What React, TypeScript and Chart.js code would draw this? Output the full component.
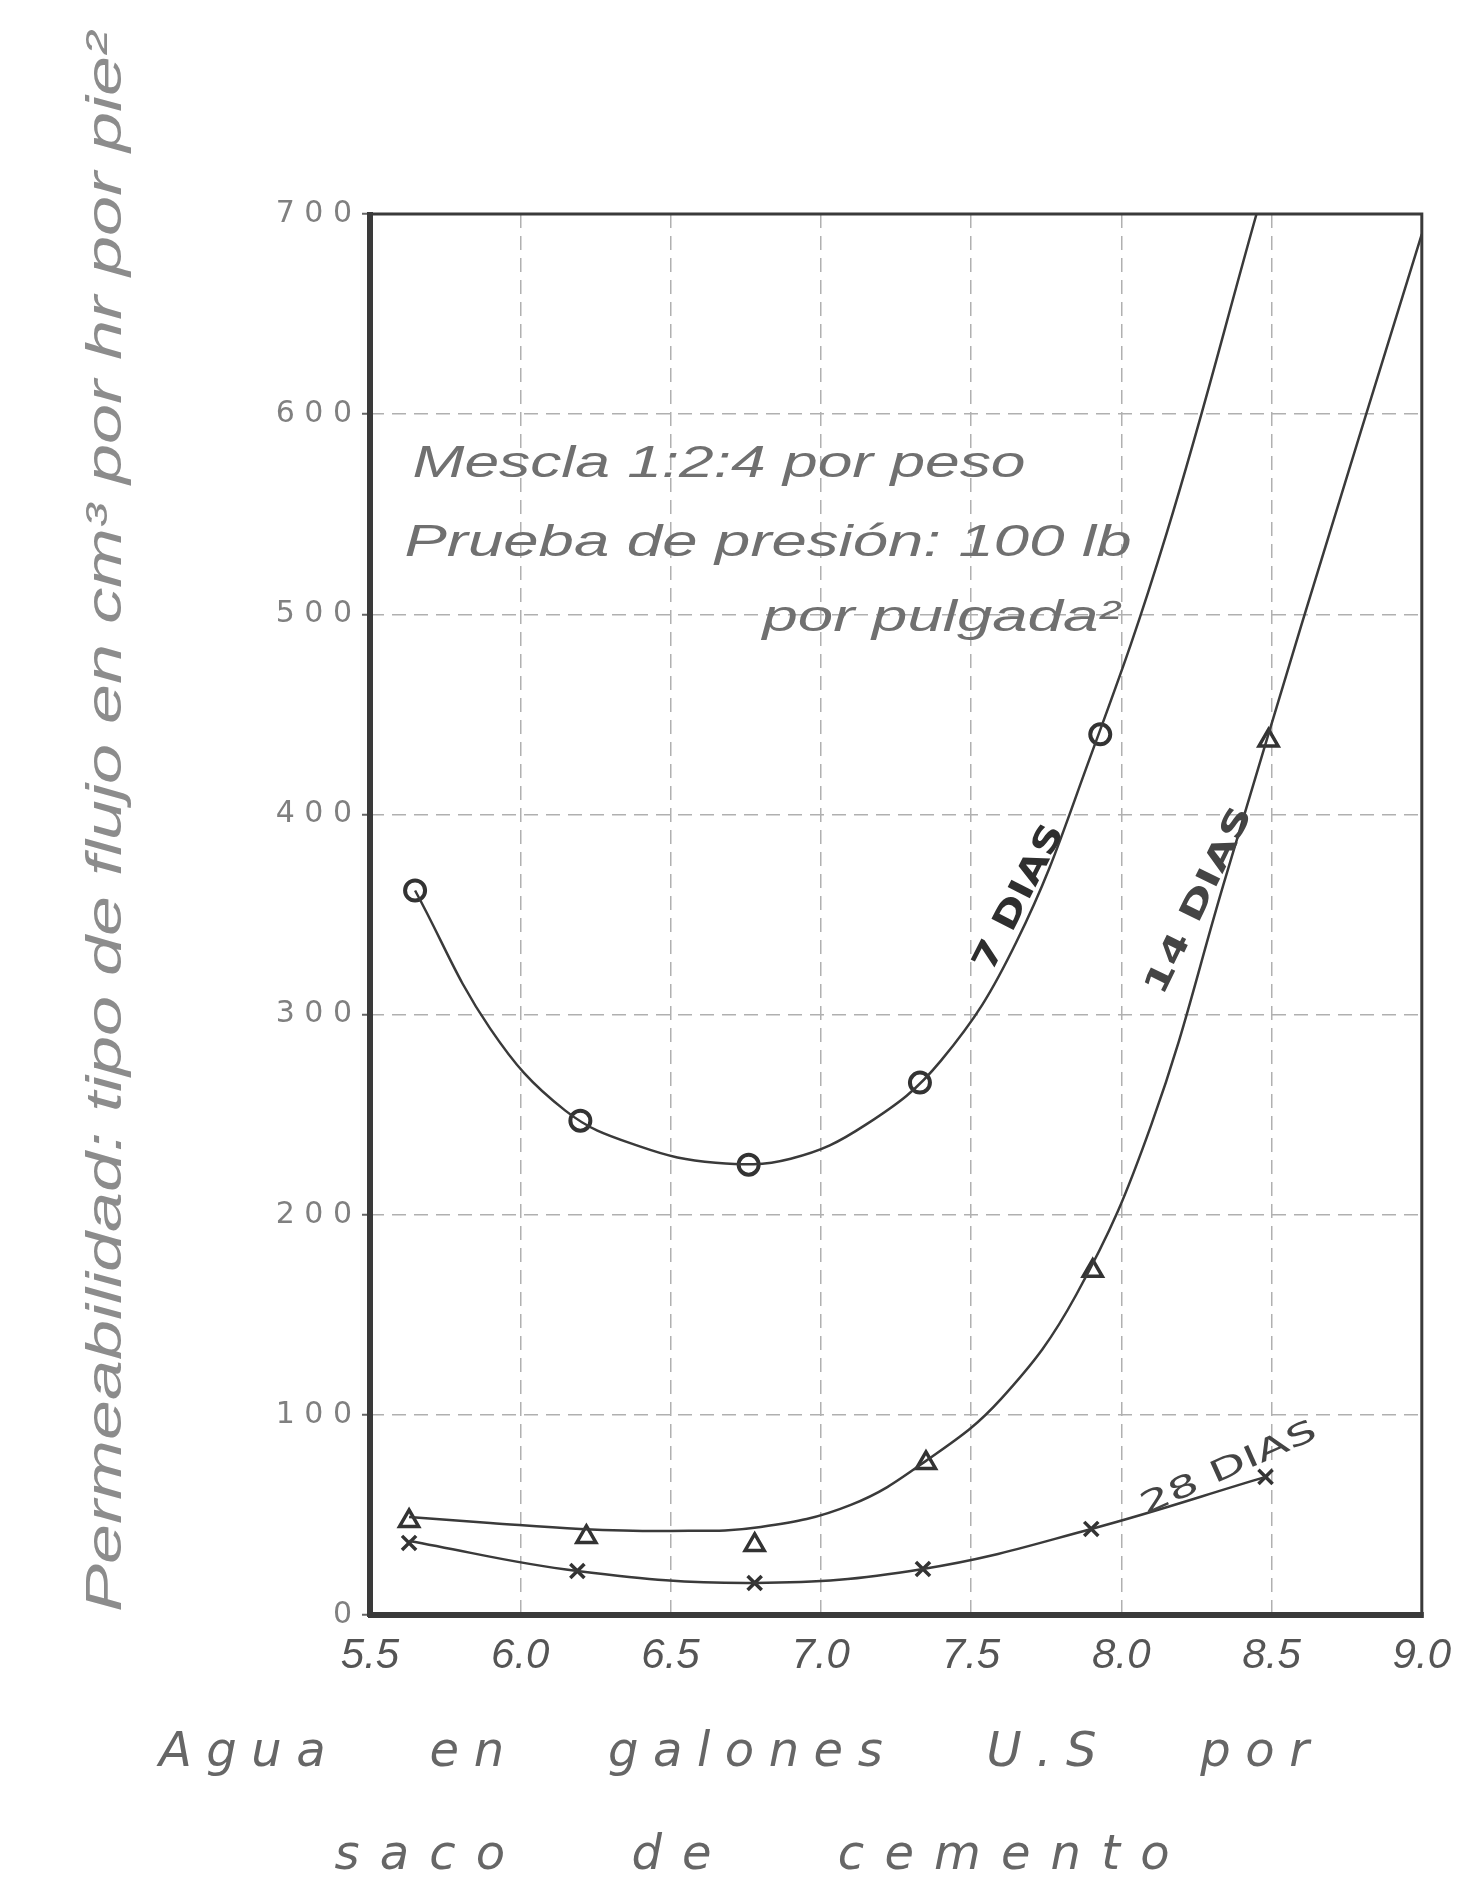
import React, { useEffect, useRef } from 'react';
import { Chart, registerables } from 'chart.js';

Chart.register(...registerables);

// ---- data ----
const xTickLabels = ['5.5', '6.0', '6.5', '7.0', '7.5', '8.0', '8.5', '9.0'];
const yTickLabels = ['0', '100', '200', '300', '400', '500', '600', '700'];

// 7 días (circles)
const water7 = [5.65, 6.2, 6.76, 7.33, 7.93];
const flow7 = [362, 247, 225, 266, 440];
const curve7X = [5.65, 5.9, 6.15, 6.4, 6.65, 6.9, 7.15, 7.4, 7.65, 7.9, 8.15, 8.45];
const curve7Y = [362, 293, 252, 234, 226, 228, 245, 277, 336, 430, 540, 700];

// 14 días (triangles)
const water14 = [5.63, 6.22, 6.78, 7.35, 7.905, 8.49];
const flow14 = [47, 39, 35, 76, 172, 437];
const curve14X = [5.63, 5.9, 6.2, 6.5, 6.8, 7.1, 7.35, 7.6, 7.85, 8.1, 8.35, 8.6, 9.0];
const curve14Y = [49, 46, 43, 42, 44, 55, 77, 108, 160, 245, 370, 495, 690];

// 28 días (crosses)
const water28 = [5.63, 6.19, 6.78, 7.34, 7.9, 8.48];
const flow28 = [36, 22, 16, 23, 43, 69];
const curve28X = [5.63, 6.19, 6.78, 7.34, 7.9, 8.48];
const curve28Y = [37, 22, 16, 23, 43, 69];

const yTitle = 'Permeabilidad: tipo de flujo en cm³ por hr por pie²';
const xTitle1 = 'Agua   en   galones   U.S   por';
const xTitle2 = 'saco   de   cemento';
const note1 = 'Mescla 1:2:4 por peso';
const note2 = 'Prueba de presión: 100 lb';
const note3 = 'por pulgada²';
const label7 = '7 DIAS';
const label14 = '14 DIAS';
const label28 = '28 DIAS';

// ---- layout ----
const W = 1459;
const H = 1880;
const AREA = { left: 362, right: 1425, top: 206, bottom: 1607 };

const pts = (xs: number[], ys: number[]) => xs.map((x, i) => ({ x, y: ys[i] }));

function fitText(ctx: CanvasRenderingContext2D, text: string, cx: number, cy: number, width: number, font: string, color: string, angle = 0) {
  ctx.save();
  ctx.translate(cx, cy);
  ctx.rotate(angle);
  ctx.font = font;
  const w = ctx.measureText(text).width;
  ctx.scale(width / w, 1);
  ctx.textAlign = 'center';
  ctx.textBaseline = 'middle';
  ctx.fillStyle = color;
  ctx.fillText(text, 0, 0);
  ctx.restore();
}

function spacedText(ctx: CanvasRenderingContext2D, text: string, cx: number, cy: number, width: number, font: string, color: string) {
  ctx.save();
  ctx.font = font;
  (ctx as any).letterSpacing = '0px';
  const w0 = ctx.measureText(text).width;
  const ls = (width - w0) / Math.max(1, text.length - 1);
  (ctx as any).letterSpacing = ls + 'px';
  ctx.textAlign = 'left';
  ctx.textBaseline = 'middle';
  ctx.fillStyle = color;
  ctx.fillText(text, cx - width / 2, cy);
  ctx.restore();
}

const framePlugin = {
  id: 'frame',
  beforeDatasetsDraw(chart: any) {
    const { ctx, chartArea: a } = chart;
    ctx.save();
    ctx.strokeStyle = '#3a3a3a';
    ctx.lineWidth = 3;
    ctx.strokeRect(a.left, a.top, a.right - a.left, a.bottom - a.top);
    ctx.lineWidth = 6;
    ctx.beginPath();
    ctx.moveTo(a.left, a.top - 2);
    ctx.lineTo(a.left, a.bottom + 2);
    ctx.moveTo(a.left - 2, a.bottom);
    ctx.lineTo(a.right + 2, a.bottom);
    ctx.stroke();
    ctx.restore();
  },
};

const textPlugin = {
  id: 'texts',
  afterDraw(chart: any) {
    const ctx: CanvasRenderingContext2D = chart.ctx;
    const deg = Math.PI / 180;
    // axis titles
    fitText(ctx, yTitle, 99, 814, 1580, 'italic 50px "Liberation Sans"', '#8c8c8c', -Math.PI / 2);
    spacedText(ctx, xTitle1, 726, 1746, 1150, 'italic 48px "DejaVu Sans"', '#666');
    spacedText(ctx, xTitle2, 744, 1849, 835, 'italic 48px "DejaVu Sans"', '#666');
    // notes inside plot
    fitText(ctx, note1, 711, 457, 613, 'italic 44px "Liberation Sans"', '#707070');
    fitText(ctx, note2, 760, 536, 727, 'italic 44px "Liberation Sans"', '#707070');
    fitText(ctx, note3, 933, 611, 357, 'italic 44px "Liberation Sans"', '#707070');
    // curve labels
    fitText(ctx, label7, 1012, 890, 160, 'bold 34px "DejaVu Sans"', '#2e2e2e', -63 * deg);
    fitText(ctx, label14, 1192, 893, 205, 'bold 32px "DejaVu Sans"', '#444', -64 * deg);
    fitText(ctx, label28, 1221, 1461, 190, '30px "DejaVu Sans"', '#444', -24 * deg);
  },
};

export default function App() {
  const ref = useRef<HTMLCanvasElement>(null);
  useEffect(() => {
    const lineColor = '#3a3a3a';
    const chart = new Chart(ref.current as HTMLCanvasElement, {
      type: 'scatter',
      data: {
        datasets: [
          { label: '7 días curva', data: pts(curve7X, curve7Y), showLine: true, borderColor: lineColor, borderWidth: 2.5, pointRadius: 0, tension: 0.4 },
          { label: '14 días curva', data: pts(curve14X, curve14Y), showLine: true, borderColor: lineColor, borderWidth: 2.5, pointRadius: 0, tension: 0.4 },
          { label: '28 días curva', data: pts(curve28X, curve28Y), showLine: true, borderColor: lineColor, borderWidth: 2.5, pointRadius: 0, tension: 0.4 },
          { label: '7 días', data: pts(water7, flow7), pointStyle: 'circle', pointRadius: 10, pointBorderWidth: 4, borderColor: '#333', backgroundColor: '#fff' },
          { label: '14 días', data: pts(water14, flow14), pointStyle: 'triangle', pointRadius: 11, pointBorderWidth: 3.5, borderColor: '#333', backgroundColor: '#fff' },
          { label: '28 días', data: pts(water28, flow28), pointStyle: 'crossRot', pointRadius: 10, pointBorderWidth: 3.5, borderColor: '#333', backgroundColor: '#fff' },
        ],
      } as any,
      options: {
        responsive: false,
        animation: false,
        layout: { padding: { left: 0, top: AREA.top, right: W - AREA.right, bottom: 0 } },
        plugins: { legend: { display: false }, tooltip: { enabled: false } },
        scales: {
          x: {
            type: 'linear',
            min: 5.5,
            max: 9.0,
            afterFit: (s: any) => { s.height = H - AREA.bottom; },
            ticks: {
              stepSize: 0.5,
              autoSkip: false,
              maxRotation: 0,
              padding: 16,
              color: '#555',
              font: { family: '"Liberation Sans"', style: 'italic', size: 42 },
              callback: (v: any) => xTickLabels[Math.round((Number(v) - 5.5) / 0.5)] ?? '',
            },
            grid: { color: '#b0b0b0', lineWidth: 1.5, drawTicks: false },
            border: { display: false, dash: [14, 8] },
          },
          y: {
            min: 0,
            max: 700,
            afterFit: (s: any) => { s.width = AREA.left; },
            ticks: {
              stepSize: 100,
              padding: 10,
              color: '#808080',
              font: { family: '"DejaVu Sans"', size: 30 },
              callback: (v: any) => (yTickLabels[Math.round(Number(v) / 100)] ?? '').split('').join(' '),
            },
            grid: { color: '#b0b0b0', lineWidth: 1.5, tickLength: 8, tickColor: '#666', tickWidth: 2 },
            border: { display: false, dash: [14, 8] },
          },
        },
      } as any,
      plugins: [framePlugin, textPlugin],
    });
    return () => chart.destroy();
  }, []);
  return (
    <canvas ref={ref} width={W} height={H} style={{ display: 'block', width: W + 'px', height: H + 'px' }} />
  );
}
